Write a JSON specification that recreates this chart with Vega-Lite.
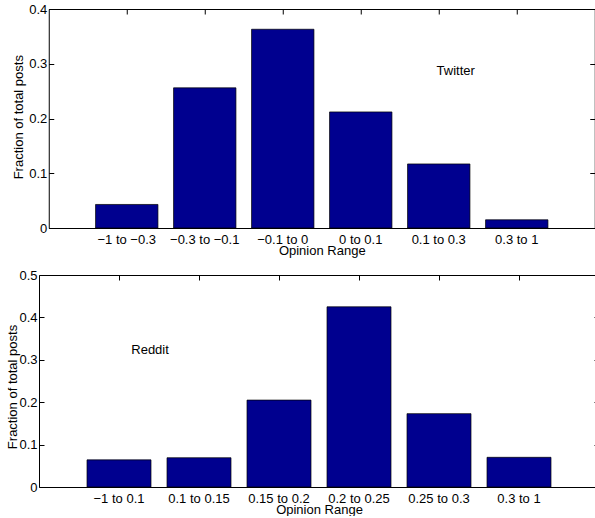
{
  "$schema": "https://vega.github.io/schema/vega-lite/v6.json",
  "padding": {"left": 6, "top": 3, "right": 0, "bottom": 0},
  "background": "white",
  "datasets": {
    "twitter": [
      {"range": "−1 to −0.3", "fraction": 0.043},
      {"range": "−0.3 to −0.1", "fraction": 0.256},
      {"range": "−0.1 to 0", "fraction": 0.363},
      {"range": "0 to 0.1", "fraction": 0.212},
      {"range": "0.1 to 0.3", "fraction": 0.117},
      {"range": "0.3 to 1", "fraction": 0.015}
    ],
    "reddit": [
      {"range": "−1 to 0.1", "fraction": 0.064},
      {"range": "0.1 to 0.15", "fraction": 0.069},
      {"range": "0.15 to 0.2", "fraction": 0.205},
      {"range": "0.2 to 0.25", "fraction": 0.425},
      {"range": "0.25 to 0.3", "fraction": 0.173},
      {"range": "0.3 to 1", "fraction": 0.070}
    ],
    "twitterLabel": [{"name": "Twitter", "range": "0.1 to 0.3", "fraction": 0.286}],
    "redditLabel": [{"name": "Reddit", "range": "−1 to 0.1", "fraction": 0.323}]
  },
  "vconcat": [
    {
      "width": 546,
      "height": 219,
      "layer": [
        {
          "data": {"name": "twitter"},
          "mark": {"type": "bar", "fill": "#00008F", "stroke": "#000000", "strokeWidth": 0.7},
          "encoding": {
            "x": {"field": "range", "type": "nominal", "sort": null,
                  "scale": {"paddingInner": 0.2, "paddingOuter": 0.6},
                  "axis": {"orient": "bottom", "title": "Opinion Range", "ticks": false, "labelAngle": 0, "labelPadding": 5, "titleBaseline": "alphabetic", "titleY": 26}},
            "y": {"field": "fraction", "type": "quantitative",
                  "scale": {"domain": [0, 0.4], "nice": false},
                  "axis": {"orient": "left", "title": "Fraction of total posts", "values": [0, 0.1, 0.2, 0.3, 0.4], "format": "~g", "tickSize": -5, "labelPadding": 7, "titleBaseline": "alphabetic", "titleX": -26.2, "titleY": 107.7}}
          }
        },
        {
          "data": {"name": "twitter"},
          "mark": {"type": "bar", "opacity": 0},
          "encoding": {
            "x": {"field": "range", "type": "nominal", "sort": null,
                  "axis": {"orient": "top", "title": null, "labels": false, "tickSize": -5}},
            "y": {"field": "fraction", "type": "quantitative",
                  "axis": {"orient": "right", "title": null, "labels": false, "values": [0, 0.1, 0.2, 0.3, 0.4], "tickSize": -5}}
          }
        },
        {
          "data": {"name": "twitterLabel"},
          "mark": {"type": "text", "fontSize": 13, "font": "Liberation Sans", "color": "#000000", "baseline": "middle", "align": "center"},
          "encoding": {
            "x": {"field": "range", "type": "nominal", "sort": null, "bandPosition": 0.772, "axis": null},
            "y": {"field": "fraction", "type": "quantitative", "axis": null},
            "text": {"field": "name"}
          }
        }
      ],
      "resolve": {"axis": {"x": "independent", "y": "independent"}}
    },
    {
      "width": 560,
      "height": 212,
      "layer": [
        {
          "data": {"name": "reddit"},
          "mark": {"type": "bar", "fill": "#00008F", "stroke": "#000000", "strokeWidth": 0.7},
          "encoding": {
            "x": {"field": "range", "type": "nominal", "sort": null,
                  "scale": {"paddingInner": 0.2, "paddingOuter": 0.6},
                  "axis": {"orient": "bottom", "title": "Opinion Range", "ticks": false, "labelAngle": 0, "labelPadding": 5, "titleBaseline": "alphabetic", "titleY": 26}},
            "y": {"field": "fraction", "type": "quantitative",
                  "scale": {"domain": [0, 0.5], "nice": false},
                  "axis": {"orient": "left", "title": "Fraction of total posts", "values": [0, 0.1, 0.2, 0.3, 0.4, 0.5], "format": "~g", "tickSize": -5, "labelPadding": 7, "titleBaseline": "alphabetic", "titleX": -22.5, "titleY": 111.5}}
          }
        },
        {
          "data": {"name": "reddit"},
          "mark": {"type": "bar", "opacity": 0},
          "encoding": {
            "x": {"field": "range", "type": "nominal", "sort": null,
                  "axis": {"orient": "top", "title": null, "labels": false, "tickSize": -5}},
            "y": {"field": "fraction", "type": "quantitative",
                  "axis": {"orient": "right", "title": null, "labels": false, "values": [0, 0.1, 0.2, 0.3, 0.4, 0.5], "tickSize": -5}}
          }
        },
        {
          "data": {"name": "redditLabel"},
          "mark": {"type": "text", "fontSize": 13, "font": "Liberation Sans", "color": "#000000", "baseline": "middle", "align": "center"},
          "encoding": {
            "x": {"field": "range", "type": "nominal", "sort": null, "bandPosition": 0.985, "axis": null},
            "y": {"field": "fraction", "type": "quantitative",
                  "axis": {"orient": "right", "offset": 6, "title": null, "labels": false, "ticks": false, "domain": true, "domainOpacity": 0}},
            "text": {"field": "name"}
          }
        }
      ],
      "resolve": {"axis": {"x": "independent", "y": "independent"}}
    }
  ],
  "spacing": 12,
  "center": true,
  "config": {
    "view": {"stroke": null},
    "axis": {
      "grid": false,
      "domainColor": "#000000",
      "domainWidth": 1,
      "tickColor": "#000000",
      "tickWidth": 1,
      "labelColor": "#000000",
      "titleColor": "#000000",
      "labelFont": "Liberation Sans",
      "titleFont": "Liberation Sans",
      "labelFontSize": 13,
      "titleFontSize": 13,
      "titleFontWeight": "normal"
    }
  }
}
